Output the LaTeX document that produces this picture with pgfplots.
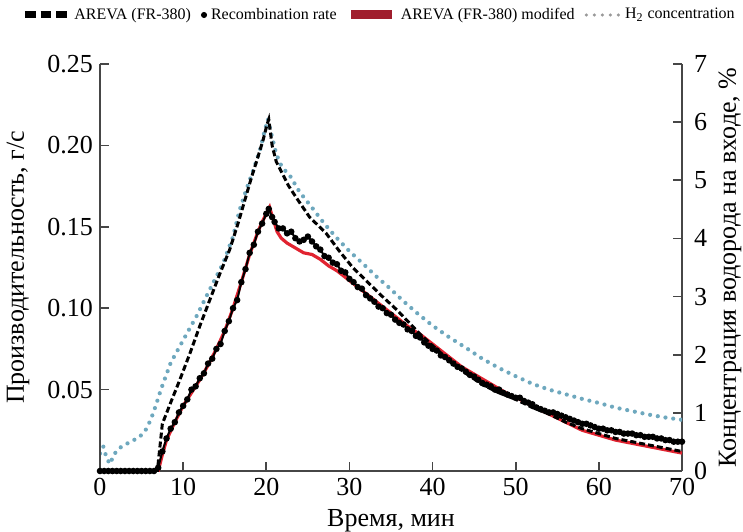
\documentclass[border=0pt]{standalone}
\usepackage{pgfplots}
\pgfplotsset{compat=1.18}
\usepackage{fontspec}
\setmainfont{Liberation Serif}
\definecolor{hcol}{RGB}{110,168,190}
\definecolor{redline}{RGB}{225,35,48}
\definecolor{redleg}{RGB}{160,30,45}
\definecolor{axcol}{RGB}{70,70,70}
\begin{document}
\begin{tikzpicture}
\pgfplotsset{
  common/.style={
    width=291pt, height=203.5pt, scale only axis,
    at={(0pt,0pt)}, anchor=south west,
    xmin=0, xmax=70,
    tick align=inside, major tick length=4.5pt,
    tick style={axcol, line width=0.8pt},
    axis line style={axcol, line width=0.8pt},
    tick label style={font=\fontsize{13}{15}\selectfont},
    label style={font=\fontsize{13}{15}\selectfont},
  }
}
% right axis: hydrogen concentration
\begin{axis}[common,
  axis x line=none, axis y line*=right,
  ymin=0, ymax=7,
  ytick={0,1,2,3,4,5,6,7}, yticklabels={0,1,2,3,4,5,6,7},
  yticklabel style={xshift=2.5pt},
  ylabel={Концентрация водорода на входе, \%},
  every axis y label/.style={at={(axis description cs:1.0825,0.5)}, rotate=90, anchor=center, font=\fontsize{13}{15}\selectfont},
]
\addplot[hcol, line width=2.1pt, line cap=round, dash pattern=on 0pt off 3.9pt] coordinates {
(0,0.30)(0.4,0.42)(0.8,0.22)(1.2,0.12)(1.7,0.29)(2.4,0.40)(3.1,0.46)(3.9,0.52)(4.7,0.58)(5.4,0.68)
(6.1,0.88)(6.7,1.12)(7.3,1.39)(8.5,1.86)(10,2.25)(11.6,2.66)(13.2,3.12)(14.8,3.57)(16,4.03)(16.8,4.49)
(17.6,4.84)(18.5,5.2)(19.3,5.55)(19.8,5.85)(20.2,6.05)(20.6,5.8)(21.2,5.45)(21.9,5.22)(22.8,5.09)(24,4.8)
(25.5,4.53)(27,4.25)(28.4,4.02)(30,3.78)(31.6,3.57)(33.2,3.35)(34.8,3.15)(36.5,2.92)(38.1,2.72)(40,2.5)
(42,2.3)(44,2.12)(46,1.93)(48,1.77)(50,1.63)(52,1.5)(54,1.4)(56,1.32)(58,1.24)(60,1.17)
(62,1.09)(64,1.03)(66,0.97)(68,0.92)(70,0.88)};
\end{axis}
% left axis
\begin{axis}[common,
  axis x line*=bottom, axis y line*=left,
  ymin=0, ymax=0.25,
  xtick={0,10,20,30,40,50,60,70}, xticklabels={0,10,20,30,40,50,60,70},
  ytick={0.05,0.10,0.15,0.20,0.25}, yticklabels={0.05,0.10,0.15,0.20,0.25},
  xlabel={Время, мин},
  ylabel={Производительность, г/с},
  every axis y label/.style={at={(axis description cs:-0.1409,0.5)}, rotate=90, anchor=center, font=\fontsize{13}{15}\selectfont},
  legend columns=4,
  legend style={at={(axis description cs:-0.1357,1.1204)}, anchor=west, draw=none, fill=none,
    inner sep=0pt, font=\fontsize{8}{9}\selectfont,
    /tikz/every even column/.append style={column sep=3pt}},
]
\addlegendimage{legend image code/.code={\draw[black, line width=3.5pt, dash pattern=on 5.3pt off 2.5pt] (0pt,0pt) -- (21pt,0pt);}}
\addlegendentry{AREVA (FR-380)}
\addlegendimage{legend image code/.code={\fill[black] (1.5pt,0pt) circle (1.3pt);}}
\addlegendentry{Recombination rate}
\addlegendimage{legend image code/.code={\draw[redleg, line width=4.5pt] (0pt,0pt) -- (20.5pt,0pt);}}
\addlegendentry{AREVA (FR-380) modifed}
\addlegendimage{legend image code/.code={\draw[gray!80, line width=1.7pt, line cap=round, dash pattern=on 0pt off 4pt] (1pt,0pt) -- (17.5pt,0pt);}}
\addlegendentry{H\textsubscript{2} concentration}
% modified (red)
\addplot[forget plot, redline, line width=1.6pt] coordinates {
(0,0)(7,0)(7.5,0.010)(8,0.019)(9,0.030)(10,0.040)(11,0.048)(12,0.056)(13,0.065)(14,0.075)
(15,0.086)(16,0.100)(17,0.116)(18,0.133)(19,0.147)(19.5,0.153)(20,0.158)(20.4,0.162)(20.8,0.155)(21.3,0.147)
(21.8,0.143)(22.5,0.140)(23.5,0.137)(24.5,0.134)(25.5,0.133)(26.5,0.130)(27.5,0.126)(28.5,0.123)(29.5,0.119)(30.5,0.115)
(31.5,0.111)(32.5,0.107)(33.5,0.103)(34.5,0.099)(35.5,0.095)(36.5,0.091)(37.5,0.087)(38.5,0.084)(39.5,0.080)(40.5,0.076)
(41.5,0.072)(42.5,0.068)(43.5,0.064)(44.5,0.061)(45.5,0.058)(46.5,0.055)(47.5,0.052)(48.5,0.049)(49.5,0.046)(50.5,0.044)
(52,0.040)(54,0.035)(56,0.030)(58,0.025)(60,0.022)(62,0.019)(64,0.017)(66,0.015)(68,0.013)(70,0.011)};
% recombination rate (black points)
\addplot[forget plot, black, line width=1pt, mark=*, mark size=1.1pt] coordinates {
(0,0)(0.5,0)(1,0)(1.5,0)(2,0)(2.5,0)(3,0)(3.5,0)(4,0)(4.5,0)(5,0)(5.5,0)(6,0)(6.5,0)(7,0.002)
(7.5,0.012)(8,0.020)(8.5,0.026)(9,0.030)(9.5,0.036)(10,0.040)(10.5,0.044)(11,0.050)(11.5,0.052)(12,0.057)
(12.5,0.060)(13,0.066)(13.5,0.069)(14,0.075)(14.5,0.078)(15,0.086)(15.5,0.092)(16,0.100)(16.5,0.105)(17,0.116)
(17.5,0.124)(18,0.134)(18.5,0.139)(19,0.147)(19.5,0.152)(20,0.158)(20.3,0.161)(20.7,0.156)(21,0.153)(21.5,0.149)
(22,0.149)(22.5,0.146)(23,0.147)(23.5,0.143)(24,0.141)(24.5,0.142)(25,0.144)(25.5,0.141)(26,0.138)(26.5,0.136)
(27,0.132)(27.5,0.131)(28,0.128)(28.5,0.127)(29,0.123)(29.5,0.122)(30,0.118)(30.5,0.116)(31,0.113)(31.5,0.112)
(32,0.108)(32.5,0.106)(33,0.104)(33.5,0.101)(34,0.100)(34.5,0.097)(35,0.096)(35.5,0.093)(36,0.091)(36.5,0.090)
(37,0.087)(37.5,0.086)(38,0.083)(38.5,0.082)(39,0.079)(39.5,0.077)(40,0.075)(40.5,0.074)(41,0.071)(41.5,0.070)
(42,0.068)(42.5,0.066)(43,0.064)(43.5,0.063)(44,0.061)(44.5,0.059)(45,0.058)(45.5,0.056)(46,0.054)(46.5,0.053)
(47,0.052)(47.5,0.050)(48,0.050)(48.5,0.048)(49,0.047)(49.5,0.046)(50,0.045)(50.5,0.045)(51,0.043)(51.5,0.042)
(52,0.041)(52.5,0.039)(53,0.038)(53.5,0.037)(54,0.036)(54.5,0.036)(55,0.035)(55.5,0.034)(56,0.033)(56.5,0.032)
(57,0.031)(57.5,0.030)(58,0.029)(58.5,0.029)(59,0.028)(59.5,0.027)(60,0.026)(60.5,0.026)(61,0.025)(61.5,0.025)
(62,0.024)(62.5,0.024)(63,0.023)(63.5,0.023)(64,0.023)(64.5,0.022)(65,0.022)(65.5,0.021)(66,0.021)(66.5,0.021)
(67,0.020)(67.5,0.020)(68,0.019)(68.5,0.019)(69,0.018)(69.5,0.018)(70,0.018)};
% AREVA (FR-380) dashed
\addplot[forget plot, black, line width=1.5pt, dash pattern=on 3pt off 1.5pt] coordinates {
(0,0)(6.9,0)(7.5,0.029)(8.5,0.042)(9.6,0.056)(10.8,0.072)(12,0.089)(13.2,0.105)(14.4,0.121)(15.6,0.136)
(16.6,0.152)(17.4,0.166)(18.2,0.180)(19,0.193)(19.6,0.203)(20.1,0.213)(20.3,0.216)(20.7,0.200)(21.2,0.190)(21.9,0.183)
(22.7,0.175)(23.6,0.168)(25.2,0.156)(27.2,0.146)(28.8,0.135)(30.4,0.125)(32,0.117)(34,0.107)(35.7,0.099)(37.2,0.091)
(38.5,0.084)(40,0.077)(42,0.068)(44,0.060)(46,0.053)(48,0.048)(50,0.044)(52,0.039)(54,0.035)(56,0.030)
(58,0.026)(60,0.023)(62,0.020)(64,0.018)(66,0.016)(68,0.014)(70,0.012)};
\end{axis}
\pgfresetboundingbox
\path (-50pt,-30pt) rectangle (321.5pt,235.5pt);
\end{tikzpicture}
\end{document}
